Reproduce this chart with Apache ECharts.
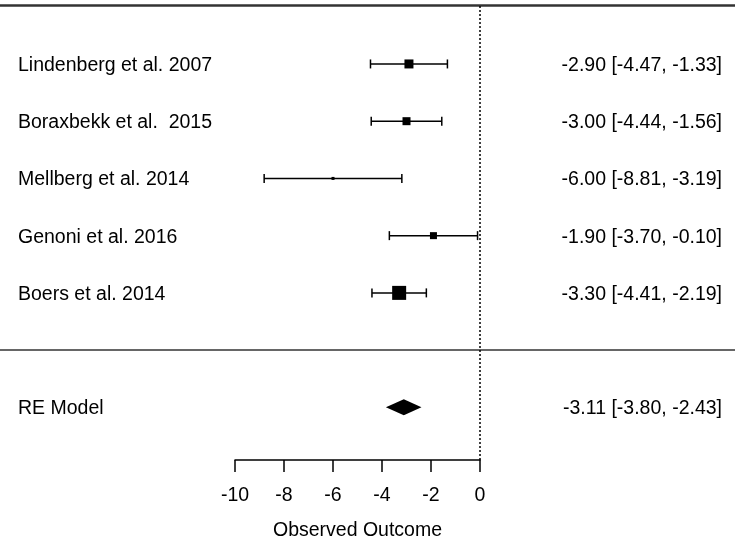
<!DOCTYPE html>
<html>
<head>
<meta charset="utf-8">
<script src="https://cdn.jsdelivr.net/npm/echarts@6/dist/echarts.min.js"></script>
<style>html,body{margin:0;padding:0;background:#fff;}#c{width:741px;height:543px;}</style>
</head>
<body>
<div id="c"></div>
<script>
var studies = ['Lindenberg et al. 2007', 'Boraxbekk et al.  2015', 'Mellberg et al. 2014', 'Genoni et al. 2016', 'Boers et al. 2014'];
var estimates = [-2.90, -3.00, -6.00, -1.90, -3.30];
var lower = [-4.47, -4.44, -8.81, -3.70, -4.41];
var upper = [-1.33, -1.56, -3.19, -0.10, -2.19];
var boxSizes = [9, 8, 3, 7, 14];
var rowIndex = [5, 4, 3, 2, 1];
var modelLabel = 'RE Model';
var modelEst = -3.11, modelLo = -3.80, modelHi = -2.43;
var modelRow = -1;
var xTicks = [-10, -8, -6, -4, -2, 0];
var axisTitle = 'Observed Outcome';

var FONT = '"Liberation Sans", Arial, sans-serif';
var FS = 19.5;
var TDY = 1.5;
function fmt(v){ return v.toFixed(2); }
function ciText(e,l,h){ return fmt(e) + ' [' + fmt(l) + ', ' + fmt(h) + ']'; }

var studyData = studies.map(function(s,i){ return [estimates[i], lower[i], upper[i], rowIndex[i], boxSizes[i], i]; });

var chart = echarts.init(document.getElementById('c'), null, {renderer:'canvas'});
var option = {
  backgroundColor: '#fff',
  animation: false,
  grid: [
    {left: 0, right: 6, top: 5, bottom: 83, outerBoundsMode: 'none', containLabel: false},
    {left: 235, width: 245, top: 5, bottom: 83, outerBoundsMode: 'none', containLabel: false}
  ],
  xAxis: [
    {gridIndex: 0, type: 'value', min: -19.592, max: 10.408, show: false},
    {gridIndex: 1, type: 'value', min: xTicks[0], max: xTicks[xTicks.length-1], interval: 2,
     axisLine: {show: true, onZero: false, lineStyle: {color: '#000', width: 1.5}},
     axisTick: {show: true, length: 12, lineStyle: {color: '#000', width: 1.5}},
     axisLabel: {color: '#000', fontSize: FS, fontFamily: FONT, margin: 26},
     splitLine: {show: false},
     name: axisTitle, nameLocation: 'middle', nameGap: 61,
     nameTextStyle: {color: '#000', fontSize: FS, fontFamily: FONT}}
  ],
  yAxis: [
    {gridIndex: 0, type: 'value', min: -1.92, max: 6.03, show: false},
    {gridIndex: 1, type: 'value', min: -1.92, max: 6.03, show: false}
  ],
  series: [
    {
      type: 'custom', xAxisIndex: 0, yAxisIndex: 0,
      data: studyData,
      renderItem: function(params, api){
        var e = api.value(0), l = api.value(1), h = api.value(2), k = api.value(3), sz = api.value(4), i = api.value(5);
        var pl = api.coord([l,k]), ph = api.coord([h,k]), pe = api.coord([e,k]);
        var y = pl[1];
        var st = {stroke:'#000', lineWidth: 1.5};
        return {type:'group', children:[
          {type:'line', shape:{x1:pl[0], y1:y, x2:ph[0], y2:y}, style:st},
          {type:'line', shape:{x1:pl[0], y1:y-4.5, x2:pl[0], y2:y+4.5}, style:st},
          {type:'line', shape:{x1:ph[0], y1:y-4.5, x2:ph[0], y2:y+4.5}, style:st},
          {type:'rect', shape:{x: pe[0]-sz/2, y: y-sz/2, width: sz, height: sz}, style:{fill:'#000'}},
          {type:'text', style:{text: studies[i], x: 18, y: y+TDY, textVerticalAlign:'middle', textAlign:'left', fill:'#000', font: FS + 'px ' + FONT}},
          {type:'text', style:{text: ciText(e,l,h), x: 722, y: y+TDY, textVerticalAlign:'middle', textAlign:'right', fill:'#000', font: FS + 'px ' + FONT}}
        ]};
      },
      markLine: {
        silent: true, symbol: 'none', label: {show: false},
        data: [
          {yAxis: 6.03, lineStyle: {color: '#333', width: 2.5, type: 'solid'}},
          {yAxis: 0, lineStyle: {color: '#333', width: 1.5, type: 'solid'}},
          {xAxis: 0, lineStyle: {color: '#000', width: 1.5, type: [2, 2]}}
        ]
      }
    },
    {
      type: 'custom', xAxisIndex: 0, yAxisIndex: 0,
      data: [[modelEst, modelLo, modelHi, modelRow]],
      renderItem: function(params, api){
        var e = api.value(0), l = api.value(1), h = api.value(2), k = api.value(3);
        var pl = api.coord([l,k]), ph = api.coord([h,k]), pe = api.coord([e,k]);
        var y = pl[1];
        return {type:'group', children:[
          {type:'polygon', shape:{points:[[pl[0]-1,y],[pe[0],y-8],[ph[0]+1,y],[pe[0],y+8]]}, style:{fill:'#000'}},
          {type:'text', style:{text: modelLabel, x: 18, y: y+TDY, textVerticalAlign:'middle', textAlign:'left', fill:'#000', font: FS + 'px ' + FONT}},
          {type:'text', style:{text: ciText(e,l,h), x: 722, y: y+TDY, textVerticalAlign:'middle', textAlign:'right', fill:'#000', font: FS + 'px ' + FONT}}
        ]};
      }
    },
    {type: 'scatter', xAxisIndex: 1, yAxisIndex: 1, data: [], silent: true}
  ]
};
chart.setOption(option);
</script>
</body>
</html>
